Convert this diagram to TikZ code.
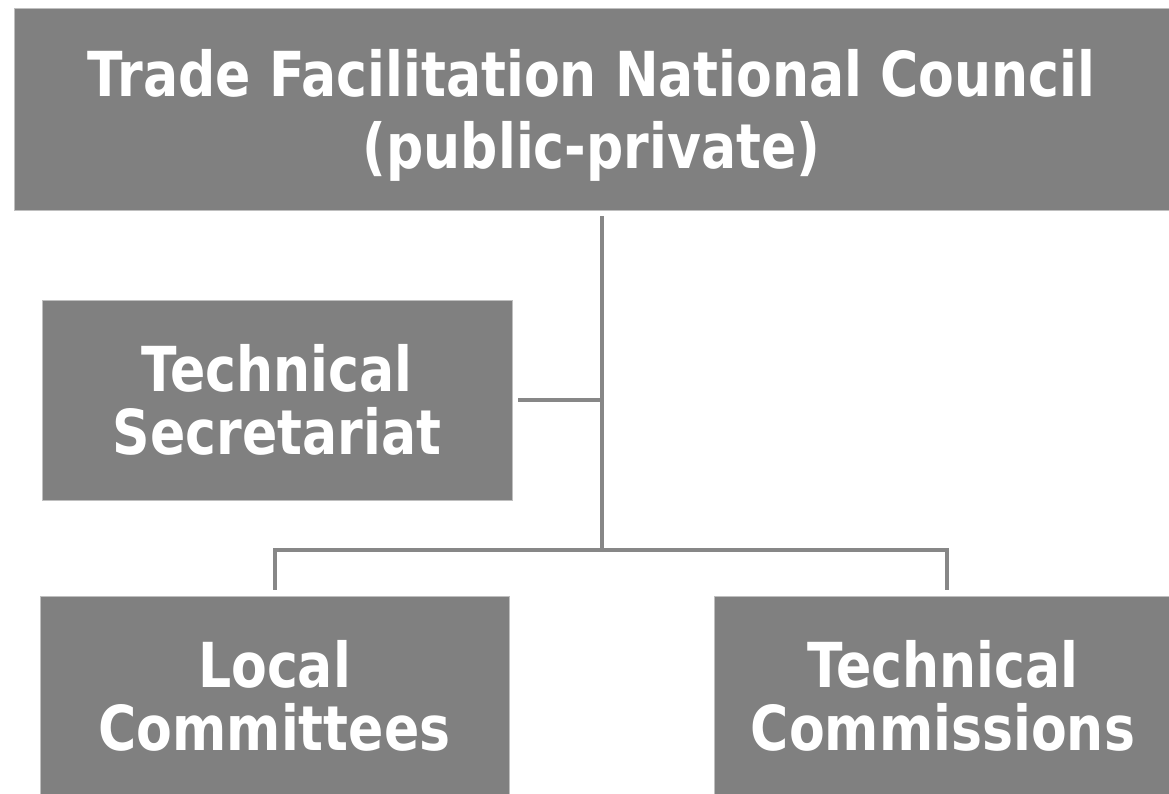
\documentclass[tikz,border=0pt]{standalone}
\usepackage{fontspec}
\setmainfont{DejaVu Sans}[FakeStretch=0.84]
\definecolor{boxgray}{HTML}{808080}
\definecolor{linegray}{HTML}{878787}
\tikzset{
	orgbox/.style={fill=boxgray, draw=lightgray, line width=0.8pt, inner sep=0pt, text=white, align=center, font=\bfseries\fontsize{62}{63}\selectfont},
	link/.style={draw=linegray, line width=4pt}
}
\begin{document}
\begin{tikzpicture}[x=1pt, y=-1pt]
				\useasboundingbox (0,0) rectangle (1169,793);
				%boxes
				\node (council) at (591.5, 109) [orgbox, minimum width=1155pt, minimum height=202pt, font=\bfseries\fontsize{62}{72}\selectfont]{\rule{0pt}{59pt}Trade Facilitation National Council\\(public-private)};
				\node (secretariat) at (277, 400) [orgbox, minimum width=470pt, minimum height=200pt]{Technical\\Secretariat};
				\node (local) at (274.5, 696) [orgbox, minimum width=469pt, minimum height=200pt]{Local\\Committees};
				\node (commissions) at (943, 696) [orgbox, minimum width=458pt, minimum height=200pt]{Technical\\Commissions};
				
				%connectors
				\coordinate (bus) at (602, 550);
				\draw[link, shorten <=6pt] (council.south -| bus) -- (bus);
				\draw[link, shorten <=6pt] (secretariat.east) -- (secretariat.east -| bus);
				\draw[link, shorten >=6pt] (bus) -| (local.north);
				\draw[link, shorten >=6pt] (bus) -| ([xshift=4pt]commissions.north);
			\end{tikzpicture}
\end{document}
